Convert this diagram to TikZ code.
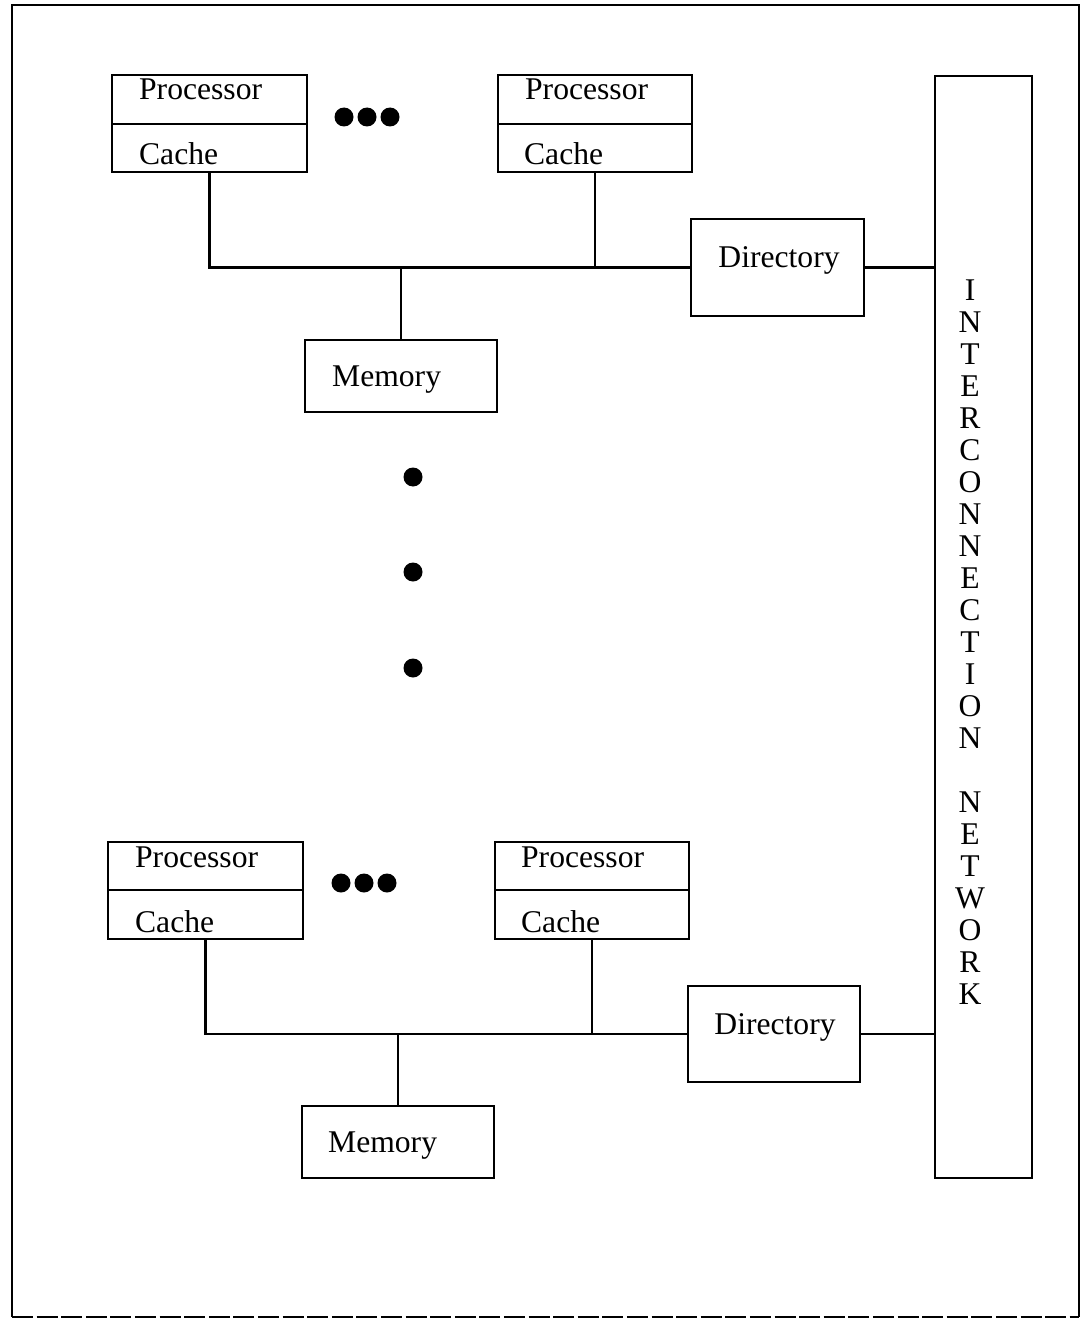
\documentclass[tikz,border=0pt]{standalone}
\usepackage{fontspec}
\setmainfont{Liberation Serif}
\usetikzlibrary{fit}
\begin{document}
\begin{tikzpicture}[x=0.02cm,y=-0.02cm,
  line width=1.3pt,
  box/.style={draw, rectangle, inner sep=0pt, fit={#1}},
  txt/.style={anchor=base west, inner sep=0pt, font=\fontsize{18}{20}\selectfont},
  ctxt/.style={anchor=base, inner sep=0pt, font=\fontsize{18}{20}\selectfont},
  dot/.style={circle, fill=black, draw=none, inner sep=0pt, minimum size=0.38cm}]
\useasboundingbox (0,0) rectangle (1086,1321);

% outer frame
\draw (12,1317) -- (12,5) -- (1079,5) -- (1079,1317);
\draw[dash pattern=on 12pt off 2pt] (12,1317) -- (1079,1317);

% interconnection network
\node[box={(935,76)(1032,1178)}] (net) {};
\foreach \ch [count=\k from 0] in {I,N,T,E,R,C,O,N,N,E,C,T,I,O,N,{},N,E,T,W,O,R,K}
  \node[ctxt] (nl\k) at (970,{300+32*\k}) {\ch};

% ---- upper cluster ----
\node[box={(112,75)(307,124)}] (p1) {};
\node[box={(112,124)(307,172)}] (c1) {};
\node[txt] (p1t) at (138,100) {Processor};
\node[txt] (c1t) at (138,165) {Cache};
\node[box={(498,75)(692,124)}] (p2) {};
\node[box={(498,124)(692,172)}] (c2) {};
\node[txt] (p2t) at (524,100) {Processor};
\node[txt] (c2t) at (523,165) {Cache};
\node[dot] (h1) at (344,117) {};
\node[dot] (h2) at (367,117) {};
\node[dot] (h3) at (390,117) {};
\node[box={(691,219)(864,316)}] (d1) {};
\node[ctxt] (d1t) at (779,267) {Directory};
\node[box={(305,340)(497,412)}] (m1) {};
\node[txt] (m1t) at (331,386) {Memory};

\draw (c1.south) |- (d1.west);
\draw (c2.south) -- (c2.south |- d1.west);
\draw (m1.north) -- (m1.north |- d1.west);
\draw (d1.east) -- (d1.east -| net.west);

% vertical ellipsis
\node[dot] (v1) at (413,477) {};
\node[dot] (v2) at (413,572) {};
\node[dot] (v3) at (413,668) {};

% ---- lower cluster ----
\node[box={(108,842)(303,890)}] (p3) {};
\node[box={(108,890)(303,939)}] (c3) {};
\node[txt] (p3t) at (134,867) {Processor};
\node[txt] (c3t) at (134,932) {Cache};
\node[box={(495,842)(689,890)}] (p4) {};
\node[box={(495,890)(689,939)}] (c4) {};
\node[txt] (p4t) at (520,867) {Processor};
\node[txt] (c4t) at (520,932) {Cache};
\node[dot] (h4) at (341,883) {};
\node[dot] (h5) at (364,883) {};
\node[dot] (h6) at (387,883) {};
\node[box={(688,986)(860,1082)}] (d2) {};
\node[ctxt] (d2t) at (775,1034) {Directory};
\node[box={(302,1106)(494,1178)}] (m2) {};
\node[txt] (m2t) at (327,1152) {Memory};

\draw (c3.south) |- (d2.west);
\draw (c4.south) -- (c4.south |- d2.west);
\draw (m2.north) -- (m2.north |- d2.west);
\draw (d2.east) -- (d2.east -| net.west);
\end{tikzpicture}
\end{document}
